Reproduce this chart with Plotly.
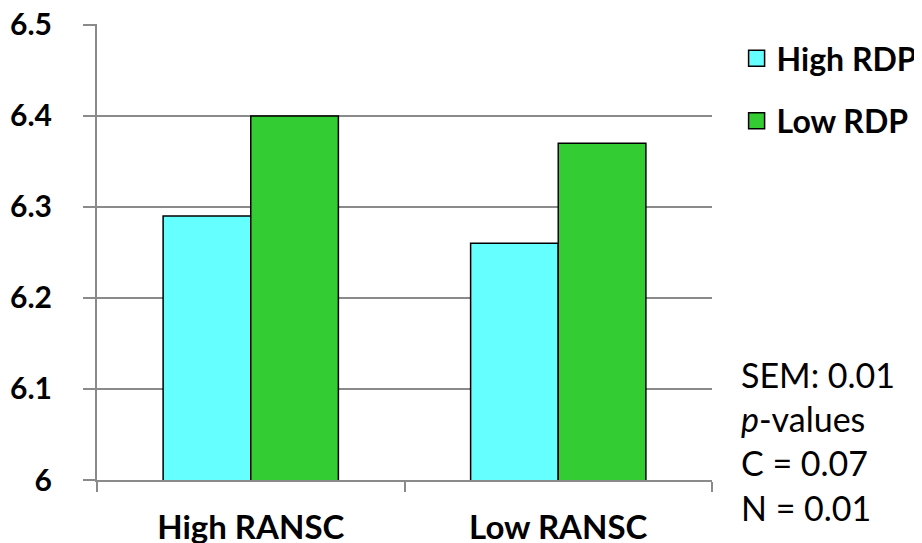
import plotly.graph_objects as go

categories = ["High RANSC", "Low RANSC"]
high_rdp = [6.29, 6.26]
low_rdp = [6.40, 6.37]
series_names = ["High RDP", "Low RDP"]
y_ticks = [6.0, 6.1, 6.2, 6.3, 6.4, 6.5]
y_tick_labels = ["6", "6.1", "6.2", "6.3", "6.4", "6.5"]
note_lines = ["SEM: 0.01", "<i>p</i>-values", "C = 0.07", "N = 0.01"]

colors = ["#66FFFF", "#33CC33"]
FONT = "Lato"
GRAY = "#8a8a8a"

fig = go.Figure()
for name, vals, col, grp in zip(series_names, [high_rdp, low_rdp], colors, ["a", "b"]):
    fig.add_trace(go.Bar(
        x=categories, y=vals, name=name,
        marker=dict(color=col, line=dict(color="black", width=1.5)),
        showlegend=False,
    ))
    fig.add_trace(go.Scatter(
        x=[None], y=[None], mode="markers", name=name, legendgroup=grp,
        marker=dict(symbol="square", size=16, color=col, line=dict(color="black", width=1.5)),
    ))

fig.update_layout(
    width=922, height=543,
    margin=dict(l=89, r=218, t=16, b=71, autoexpand=False),
    paper_bgcolor="white", plot_bgcolor="white",
    barmode="group", bargap=0.43, bargroupgap=0,
    font=dict(family=FONT, color="black"),
    showlegend=True,
    legend=dict(
        x=1.04, y=0.985, xanchor="left", yanchor="top",
        font=dict(family=FONT, size=32, color="black", weight="bold"),
        traceorder="grouped", tracegroupgap=18, itemwidth=30,
        bgcolor="rgba(0,0,0,0)",
    ),
    xaxis=dict(
        showline=True, linecolor=GRAY, linewidth=2, automargin=False,
        ticks="outside", tickson="boundaries", ticklen=10, tickcolor=GRAY, tickwidth=2,
        tickfont=dict(family=FONT, size=33, color="black", weight="bold"),
        ticklabelstandoff=17, showgrid=False, ticklabeloverflow="allow",
    ),
    yaxis=dict(
        range=[6.0, 6.501], tickvals=y_ticks, ticktext=y_tick_labels, automargin=False,
        showline=True, linecolor=GRAY, linewidth=2,
        ticks="outside", ticklen=12, tickcolor=GRAY, tickwidth=2,
        showgrid=True, gridcolor=GRAY, gridwidth=2, zeroline=False,
        tickfont=dict(family=FONT, size=30, color="black", weight="bold"),
        ticklabelstandoff=25, ticklabeloverflow="allow",
    ),
)

fig.add_annotation(
    xref="paper", yref="paper", x=1.044, y=0.28, xanchor="left", yanchor="top",
    text="<br>".join(note_lines), showarrow=False, align="left",
    font=dict(family=FONT, size=34, color="black"),
)

fig.write_html("out.html")
